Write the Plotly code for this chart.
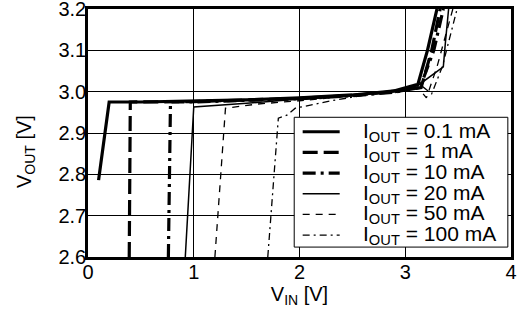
import plotly.graph_objects as go

# V_IN / V_OUT curves, one pair of lists per load current
vin_01 = [0.10, 0.20, 0.5, 1.0, 1.5, 2.0, 2.5, 2.9, 3.12, 3.21, 3.30]
vout_01 = [2.786, 2.975, 2.975, 2.977, 2.980, 2.985, 2.992, 3.002, 3.018, 3.10, 3.20]

vin_1 = [0.39, 0.40, 1.0, 2.0, 2.5, 2.9, 3.15, 3.25, 3.33]
vout_1 = [2.60, 2.975, 2.976, 2.984, 2.991, 3.0, 3.01, 3.10, 3.20]

vin_10 = [0.76, 0.78, 1.0, 2.0, 2.5, 2.9, 3.14, 3.27, 3.36]
vout_10 = [2.60, 2.975, 2.975, 2.983, 2.990, 2.999, 3.01, 3.10, 3.20]

vin_20 = [0.92, 1.0, 1.5, 2.0, 2.5, 2.9, 3.12, 3.36, 3.38, 3.41]
vout_20 = [2.60, 2.963, 2.972, 2.982, 2.990, 3.0, 3.015, 3.06, 3.12, 3.20]

vin_50 = [1.20, 1.30, 1.6, 2.0, 2.5, 2.9, 3.12, 3.20, 3.30, 3.45]
vout_50 = [2.60, 2.960, 2.970, 2.978, 2.990, 3.002, 3.01, 2.985, 3.06, 3.20]

vin_100 = [1.70, 1.80, 1.88, 1.96, 2.3, 2.7, 3.0, 3.15, 3.25, 3.35, 3.49]
vout_100 = [2.60, 2.936, 2.943, 2.960, 2.978, 2.995, 3.008, 3.015, 2.995, 3.06, 3.20]

labels = ["0.1 mA", "1 mA", "10 mA", "20 mA", "50 mA", "100 mA"]

# line width / dash per curve
styles = [
    (3.2, "solid"),
    (3.2, "15px,6px"),
    (3.2, "13px,5px,3px,5px"),
    (1.5, "solid"),
    (1.3, "7px,6px"),
    (1.3, "7px,4px,2px,4px"),
]
curves = [(vin_01, vout_01), (vin_1, vout_1), (vin_10, vout_10),
          (vin_20, vout_20), (vin_50, vout_50), (vin_100, vout_100)]

fig = go.Figure()
for (x, y), (w, d), lab in zip(curves, styles, labels):
    fig.add_trace(go.Scatter(
        x=x, y=y, mode="lines",
        line=dict(color="black", width=w, dash=d),
        name="I<sub>OUT</sub> = " + lab, showlegend=False,
    ))

# hand-made legend box (plotly's own legend rows are too far apart)
fig.add_shape(type="rect", x0=1.95, x1=3.97, y0=2.624, y1=2.938,
              line=dict(color="black", width=1), fillcolor="white", layer="above")
for i, ((w, d), lab) in enumerate(zip(styles, labels)):
    yy = 2.903 - i * 0.05
    fig.add_shape(type="line", x0=2.03, x1=2.38, y0=yy, y1=yy,
                  line=dict(color="black", width=w, dash=d), layer="above")
    fig.add_annotation(x=2.58, y=yy, text="I<sub>OUT</sub> = " + lab,
                       showarrow=False, xanchor="left", yanchor="middle",
                       font=dict(size=21, color="black"))

axis_style = dict(
    showline=True, linecolor="black", linewidth=2.5, mirror=True,
    showgrid=True, gridcolor="black", gridwidth=1,
    zeroline=False, ticks="", ticklabeloverflow="allow", automargin=False,
    tickfont=dict(size=20, color="black"),
)

fig.update_layout(
    width=518, height=325,
    margin=dict(l=88, r=7, t=9, b=68),
    paper_bgcolor="white", plot_bgcolor="white",
    font=dict(family="Liberation Sans, Arial", color="black"),
    showlegend=False,
    xaxis=dict(range=[0, 4], dtick=1, ticklabelstandoff=-5,
               title=dict(text="V<sub>IN</sub> [V]", font=dict(size=20), standoff=4),
               **axis_style),
    yaxis=dict(range=[2.6, 3.2], dtick=0.1, tickformat=".1f",
               ticklabelstandoff=-5, **axis_style),
)

fig.add_annotation(xref="paper", yref="paper", x=-0.149, y=0.427,
                   text="V<sub>OUT</sub> [V]", textangle=-90, showarrow=False,
                   xanchor="center", yanchor="middle",
                   font=dict(size=20, color="black"))

fig.write_html("out.html", config={"displayModeBar": False},
               post_script="document.body.style.margin='0';")
